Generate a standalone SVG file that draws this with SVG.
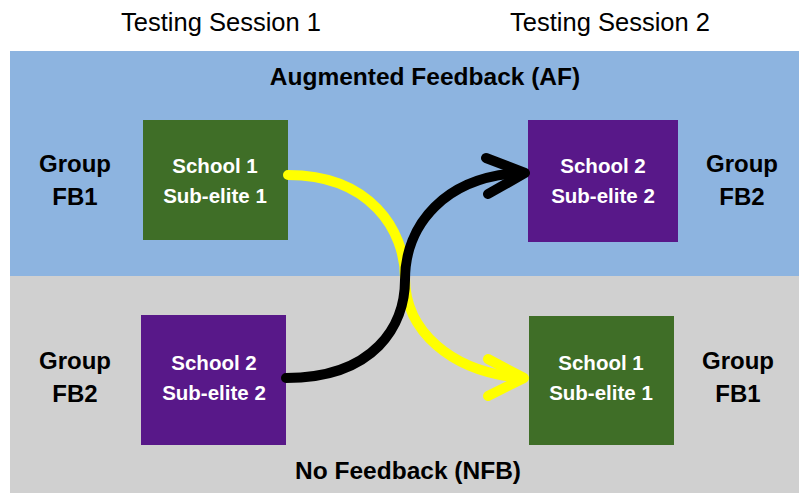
<svg xmlns="http://www.w3.org/2000/svg" width="799" height="493" viewBox="0 0 799 493">
<style>
.t{font-family:"Liberation Sans",Arial,sans-serif;fill:#000}
.title{font-size:25.5px}
.band{font-size:24.5px;font-weight:bold}
.grp{font-size:24px;font-weight:bold;text-anchor:middle}
.box{font-size:20.5px;font-weight:bold;fill:#fff;text-anchor:middle;font-family:"Liberation Sans",Arial,sans-serif}
.green{fill:#3F6E27}
.purple{fill:#581889}
.arr{fill:none;stroke-width:10;stroke-linecap:round;stroke-linejoin:round}
</style>
<rect width="799" height="493" fill="#fff"/>
<g id="bands">
<rect x="10" y="51" width="789" height="225" fill="#8DB4E0"/>
<rect x="10" y="276" width="789" height="217" fill="#D0D0D0"/>
</g>
<g id="headers">
<text class="t title" x="221" y="31" text-anchor="middle">Testing Session 1</text>
<text class="t title" x="610" y="31" text-anchor="middle">Testing Session 2</text>
<text class="t band" x="425" y="85" text-anchor="middle">Augmented Feedback (AF)</text>
<text class="t band" x="408" y="479" text-anchor="middle">No Feedback (NFB)</text>
</g>
<g id="group-fb1-left"><text class="t grp" x="75" y="172">Group</text><text class="t grp" x="75" y="205">FB1</text></g>
<g id="group-fb2-right"><text class="t grp" x="742" y="172">Group</text><text class="t grp" x="742" y="205">FB2</text></g>
<g id="group-fb2-left"><text class="t grp" x="75" y="369">Group</text><text class="t grp" x="75" y="402">FB2</text></g>
<g id="group-fb1-right"><text class="t grp" x="738" y="369">Group</text><text class="t grp" x="738" y="402">FB1</text></g>
<g id="s1-session1"><rect class="green" x="143" y="120" width="145" height="120"/><text class="box" x="215" y="173">School 1</text><text class="box" x="215" y="203">Sub-elite 1</text></g>
<g id="s2-session2"><rect class="purple" x="528" y="120" width="150" height="122"/><text class="box" x="603" y="173">School 2</text><text class="box" x="603" y="203">Sub-elite 2</text></g>
<g id="s2-session1"><rect class="purple" x="141" y="315" width="145" height="130"/><text class="box" x="214" y="370">School 2</text><text class="box" x="214" y="400">Sub-elite 2</text></g>
<g id="s1-session2"><rect class="green" x="529" y="316" width="145" height="129"/><text class="box" x="601" y="370">School 1</text><text class="box" x="601" y="400">Sub-elite 1</text></g>
<g id="connectors">
<path class="arr" stroke="#FFFF00" d="M288,175 C370,175 405,230 405,278 C405,330 450,372 522,378"/>
<path class="arr" stroke="#FFFF00" d="M488,359 L524,378 L488,396"/>
<path class="arr" stroke="#000" d="M286,378 C375,378 405,325 405,280 C405,225 445,176 522,173"/>
<path class="arr" stroke="#000" d="M486,158 L525,173 L488,194"/>
</g>
</svg>
